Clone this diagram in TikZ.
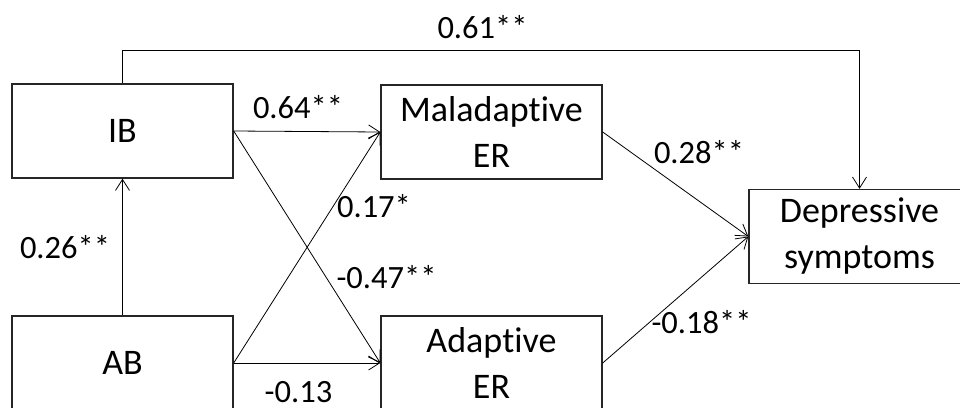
\documentclass[tikz,border=0pt]{standalone}
\usepackage{fontspec}
\setmainfont{Carlito}[Ligatures=NoCommon]
\usetikzlibrary{arrows.meta}
\newcommand{\nolig}{\kern0pt}
\begin{document}
\begin{tikzpicture}[x=1pt,y=1pt,
  box/.style={draw=black!85,line width=1.4pt,rectangle,minimum width=221pt,minimum height=94pt,inner sep=0pt,align=center,font=\fontsize{36}{46}\selectfont},
  conn/.style={draw=black,line width=0.8pt,-{Straight Barb[length=11pt,width=14pt]}},
  lbl/.style={font=\fontsize{32.5}{38}\selectfont,inner sep=0pt}
]
\clip (0,0) rectangle (960,-407);
\fill[white] (0,0) rectangle (960,-407);
\node[box] (IB) at (122.5,-131) {IB};
\node[box] (AB) at (122.5,-363) {AB};
\node[box] (Mal) at (491.5,-132) {Maladap\nolig tive\\ER};
\node[box] (Ad) at (491.5,-363) {Adap\nolig tive\\ER};
\node[box] (Dep) at (859.5,-236.5) {Depressive\\symptoms};
\coordinate (top) at (0,-50);

\draw[conn] (IB.north) -- (IB.north |- top) -- (Dep.north |- top) -- (Dep.north);
\draw[conn] (AB.north) -- (IB.south);
\draw[conn] (IB.east) -- (Mal.west);
\draw[conn] (IB.east) -- (Ad.west);
\draw[conn] (AB.east) -- (Mal.west);
\draw[conn] (AB.east) -- (Ad.west);
\draw[conn] (Mal.east) -- (Dep.west);
\draw[conn] (Ad.east) -- (Dep.west);

\node[lbl] (l61) at (482.5,-27) {0.61**};
\node[lbl] (l64) at (298,-107) {0.64**};
\node[lbl] (l17) at (374,-206) {0.17*};
\node[lbl] (l47) at (386.5,-277) {-0.47**};
\node[lbl] (l13) at (298.5,-392) {-0.13};
\node[lbl] (l26) at (65,-247) {0.26**};
\node[lbl] (l28) at (699,-152) {0.28**};
\node[lbl] (l18) at (701.5,-322) {-0.18**};
\end{tikzpicture}
\end{document}
